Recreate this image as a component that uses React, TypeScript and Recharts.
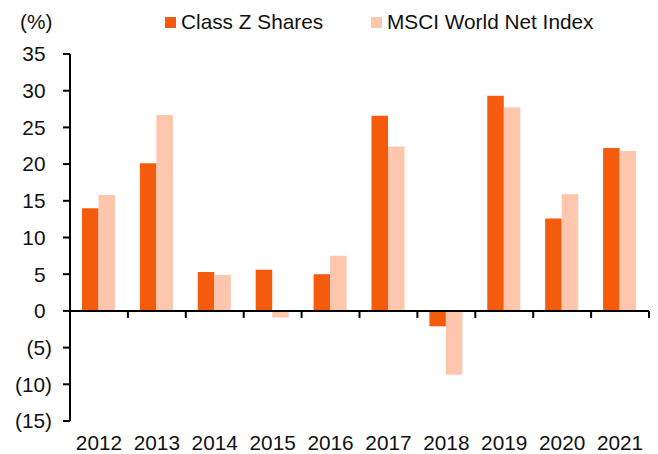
import React from 'react';
import { BarChart, Bar, XAxis, YAxis, ReferenceLine } from 'recharts';

const years = ['2012', '2013', '2014', '2015', '2016', '2017', '2018', '2019', '2020', '2021'];
const classZ = [14.0, 20.1, 5.3, 5.6, 5.0, 26.6, -2.1, 29.3, 12.6, 22.2];
const msciWorld = [15.8, 26.7, 4.9, -0.9, 7.5, 22.4, -8.7, 27.7, 15.9, 21.8];
const yTicks = [-15, -10, -5, 0, 5, 10, 15, 20, 25, 30, 35];

const DARK = '#F55B0D';
const LIGHT = '#FFC6AE';
const FONT = '"Liberation Sans", Arial, sans-serif';
const FS = 20.8;

const data = years.map((year, i) => ({ year, classZ: classZ[i], msci: msciWorld[i] }));

const YTick = (props: any) => {
  const { x, y, payload } = props;
  const v = payload.value;
  const label = v < 0 ? `(${Math.abs(v)})` : `${v}`;
  return (
    <text x={v < 0 ? x : x - 6.5} y={y} dy="0.355em" textAnchor="end" fontSize={FS} fontFamily={FONT} fill="#111">
      {label}
    </text>
  );
};

// zero line with category boundary ticks hanging below it
const ZeroAxis = (props: any) => {
  const { x1, y1, x2 } = props;
  const step = (x2 - x1) / years.length;
  return (
    <g>
      <line x1={x1} y1={y1} x2={x2} y2={y1} stroke="#000" strokeWidth={2} />
      {years.map((_, i) => (
        <line key={i} x1={x1 + step * (i + 1)} y1={y1} x2={x1 + step * (i + 1)} y2={y1 + 7} stroke="#000" strokeWidth={2} />
      ))}
    </g>
  );
};

const LegendItem = ({ color, label, left }: { color: string; label: string; left: number }) => (
  <div style={{ position: 'absolute', left, top: 12, display: 'flex', alignItems: 'center', whiteSpace: 'nowrap' }}>
    <span style={{ width: 11, height: 11, background: color, display: 'inline-block', marginRight: 5 }} />
    <span>{label}</span>
  </div>
);

export default function App() {
  return (
    <div style={{ position: 'absolute', left: 0, top: 0, width: 658, height: 454, background: '#fff', fontFamily: FONT, overflow: 'hidden' }}>
      <div style={{ fontSize: FS, lineHeight: '20px', color: '#111' }}>
        <div style={{ position: 'absolute', left: 20, top: 12 }}>(%)</div>
        <LegendItem color={DARK} label="Class Z Shares" left={165} />
        <LegendItem color={LIGHT} label="MSCI World Net Index" left={371} />
      </div>
      <BarChart
        width={658}
        height={454}
        data={data}
        margin={{ top: 54, right: 9, bottom: 0, left: 0 }}
        barGap={0}
        barSize={16.5}
      >
        <XAxis
          dataKey="year"
          axisLine={false}
          tickLine={false}
          tickSize={0}
          tickMargin={14}
          height={33}
          interval={0}
          tick={{ fontSize: FS, fontFamily: FONT, fill: '#111' }}
        />
        <YAxis
          domain={[-15, 35]}
          ticks={yTicks}
          interval={0}
          width={70}
          axisLine={{ stroke: '#000', strokeWidth: 2 }}
          tickLine={{ stroke: '#000', strokeWidth: 2 }}
          tickSize={7}
          tickMargin={11}
          tick={<YTick />}
        />
        <Bar dataKey="classZ" fill={DARK} isAnimationActive={false} />
        <Bar dataKey="msci" fill={LIGHT} isAnimationActive={false} />
        <ReferenceLine y={0} shape={<ZeroAxis />} />
      </BarChart>
    </div>
  );
}
